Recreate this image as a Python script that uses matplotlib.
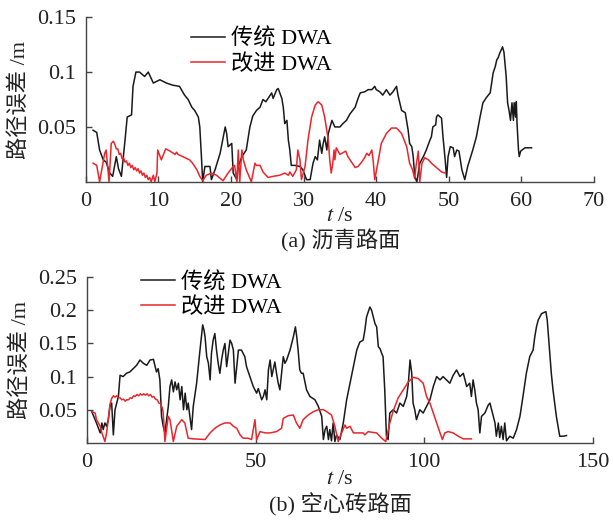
import numpy as np
import matplotlib.pyplot as plt

plt.rcParams['font.family'] = ['Liberation Serif', 'Noto Sans CJK SC']
plt.rcParams['mathtext.fontset'] = 'stix'

# (a) asphalt road
t_a_trad = [1.0, 1.5, 1.9, 2.4, 2.8, 3.3, 3.7, 4.2, 4.5, 4.9, 5.4, 5.7, 6.3, 6.5, 6.9, 7.4, 8.1, 8.6, 9.3,
            10.2, 11.1, 12.0, 12.9, 13.6, 14.1, 14.6, 15.0, 15.5, 15.7, 15.9, 16.1, 16.4, 17.1, 17.3, 17.8,
            18.5, 19.2, 19.4, 19.6, 20.1, 20.3, 20.8, 21.0, 21.5, 22.1, 22.6, 23.0, 23.5, 24.0, 24.4, 24.8,
            25.6, 25.8, 26.3, 26.5, 27.0, 27.2, 27.4, 27.7, 27.9, 28.1, 28.3, 28.8, 29.5, 29.9, 30.4, 30.9,
            31.3, 31.6, 31.9, 32.2, 32.5, 32.7, 32.9, 33.2, 33.4, 33.9, 34.3, 35.0, 35.4, 35.9, 36.4, 37.1,
            37.5, 37.8, 38.4, 38.9, 39.4, 39.8, 40.0, 40.5, 40.9, 41.4, 41.9, 42.3, 42.8, 43.0, 43.5, 44.0,
            44.4, 44.6, 44.9, 45.1, 45.3, 45.6, 46.0, 46.5, 46.9, 47.4, 47.6, 47.8, 48.2, 48.3, 48.5, 49.0,
            49.2, 49.5, 49.7, 49.9, 50.2, 50.6, 50.8, 51.1, 51.4, 51.8, 52.2, 52.6, 53.3, 53.8, 54.3, 54.7,
            55.2, 55.7, 55.9, 56.1, 56.4, 56.6, 56.8, 57.0, 57.4, 57.6, 57.9, 58.1, 58.3, 58.5, 58.7, 58.9,
            59.0, 59.2, 59.3, 59.4, 59.6, 59.7, 59.9, 60.5, 61.4]
e_a_trad = [.047, .045, .029, .020, .018, .008, .005, .023, .012, .005, .038, .059, .061, .087, .100, .100, .096, .100, .090,
            .093, .090, .088, .087, .079, .075, .068, .065, .059, .050, .026, .000, .014, .014, .002, .011,
            .026, .050, .044, .032, .035, .008, .002, .014, .023, .029, .050, .060, .065, .068, .075, .073,
            .081, .076, .084, .085, .076, .068, .053, .056, .038, .029, .015, .015, .014, .011, .002, .002,
            .017, .023, .020, .038, .026, .035, .041, .029, .044, .056, .050, .050, .053, .056, .062, .068,
            .076, .081, .082, .084, .084, .087, .084, .082, .079, .084, .079, .082, .087, .079, .065, .063,
            .047, .035, .032, .023, .005, .000, .017, .023, .029, .038, .041, .050, .052, .059, .061, .058,
            .041, .020, .004, .023, .032, .031, .023, .029, .028, .011, .002, .014, .029, .041, .059, .072,
            .077, .081, .090, .099, .105, .111, .113, .117, .123, .118, .096, .072, .065, .056, .072, .056,
            .072, .059, .073, .053, .029, .023, .028, .031, .031]

t_a_impr = [1.0, 1.5, 1.9, 2.6, 2.8, 3.2, 3.5, 3.8, 4.0, 4.2, 4.4, 4.6, 4.8, 5.0, 5.2, 5.4, 5.6, 5.8, 6.0,
            6.2, 6.4, 6.6, 6.8, 7.0, 7.2, 7.4, 7.6, 7.8, 8.0, 8.2, 8.4, 8.6, 8.8, 9.0, 9.3, 9.5, 9.8, 9.9,
            10.4, 11.0, 11.6, 12.3, 12.5, 12.7, 14.3, 14.7, 15.3, 15.7, 16.1, 16.6, 17.3, 18.0, 18.9, 19.6,
            20.3, 20.5, 20.8, 21.0, 21.2, 21.5, 21.7, 22.1, 22.8, 23.3, 23.5, 24.0, 24.4, 25.1, 25.8, 26.7,
            27.4, 27.9, 28.1, 28.5, 29.0, 29.2, 29.5, 29.7, 30.2, 30.6, 31.1, 31.6, 32.0, 32.5, 32.9, 33.4,
            33.6, 33.8, 34.0, 34.2, 34.3, 34.5, 35.0, 35.8, 36.1, 37.1, 37.5, 38.0, 38.4, 38.7, 39.0, 39.4,
            39.6, 39.8, 40.3, 40.7, 41.4, 42.1, 42.8, 43.5, 44.2, 44.6, 45.0, 45.3, 45.5, 45.8, 46.0, 46.3,
            46.7, 47.2, 47.6, 48.3, 49.0, 49.5]
e_a_impr = [.017, .015, .000, .026, .029, .000, .035, .037, .034, .030, .030, .025, .026, .021, .022, .018, .019, .015, .017,
            .013, .015, .011, .013, .010, .012, .008, .010, .006, .008, .004, .006, .002, .004, .000, .006, .000, .008, .029,
            .020, .030, .028, .025, .027, .025, .020, .017, .011, .005, .001, .006, .008, .006, .001, .008,
            .014, .015, .000, .029, .000, .029, .020, .011, .000, .017, .015, .015, .009, .004, .005, .006,
            .008, .006, .009, .005, .011, .029, .020, .002, .014, .038, .059, .070, .073, .070, .059, .038,
            .020, .008, .016, .029, .020, .031, .025, .028, .023, .013, .014, .018, .022, .026, .024, .029,
            .018, .002, .020, .035, .044, .049, .049, .044, .032, .017, .011, .003, .015, .028, .000, .017,
            .022, .020, .017, .013, .009, .008]

# (b) hollow brick road
t_b_trad = [1.4, 2.4, 3.4, 3.9, 4.4, 4.8, 5.3, 5.8, 6.3, 6.8, 7.3, 7.8, 8.3, 9.3, 9.8, 10.7, 11.7, 12.7, 13.7,
            14.7, 15.7, 16.7, 17.7, 18.7, 19.7, 20.2, 20.6, 21.1, 21.6, 22.1, 22.6, 23.1, 23.6, 24.1, 24.6,
            25.1, 25.6, 26.1, 26.6, 27.1, 27.6, 28.1, 28.6, 29.1, 29.6, 30.0, 30.5, 31.0, 31.5, 32.5, 33.0,
            33.5, 34.3, 34.7, 35.0, 35.5, 36.0, 36.5, 36.9, 37.4, 37.9, 38.4, 38.9, 39.4, 39.9, 40.4, 40.9,
            41.4, 41.9, 42.4, 42.9, 43.4, 43.9, 44.4, 44.9, 45.8, 46.8, 47.3, 48.3, 49.3, 50.3, 50.8, 51.8,
            52.3, 52.8, 53.3, 53.8, 54.3, 54.8, 55.2, 55.7, 56.2, 56.7, 57.2, 57.7, 58.2, 58.7, 59.2, 60.2,
            61.2, 61.8, 62.2, 62.6, 63.1, 63.6, 64.1, 65.1, 66.1, 67.6, 68.6, 69.6, 70.1, 70.6, 71.1, 71.6,
            72.0, 72.5, 73.0, 73.5, 74.0, 75.0, 76.0, 77.0, 78.0, 79.0, 80.0, 80.9, 81.9, 82.4, 82.9, 83.9,
            84.4, 84.9, 85.4, 85.9, 86.4, 86.9, 87.4, 87.8, 88.3, 88.8, 89.3, 89.8, 90.8, 91.8, 92.8, 93.8,
            94.8, 95.3, 95.8, 96.3, 96.7, 97.2, 97.7, 98.7, 99.7, 100.7, 101.7, 102.7, 103.7, 104.7, 105.6,
            106.6, 107.6, 108.6, 109.6, 110.6, 111.6, 112.6, 113.5, 114.0, 114.5, 115.0, 115.5, 116.0, 116.5,
            117.0, 118.0, 119.0, 119.5, 120.0, 120.5, 121.0, 121.4, 122.0, 122.4, 122.9, 123.4, 123.9, 124.4,
            125.4, 126.4, 127.4, 128.4, 129.3, 130.3, 131.3, 132.3, 132.8, 133.3, 133.8, 134.8, 136.1, 136.5,
            136.8, 137.3, 137.7, 138.2, 139.2, 139.7, 140.2, 141.2, 142.2]
e_b_trad = [.047, .035, .022, .015, .030, .020, .030, .025, .035, .055, .060, .012, .050, .070, .102, .100, .105, .107, .112,
            .117, .125, .120, .117, .125, .126, .115, .107, .112, .095, .040, .025, .015, .035, .055, .085,
            .095, .077, .092, .080, .090, .065, .085, .050, .075, .050, .060, .040, .020, .055, .090, .115,
            .140, .178, .170, .160, .130, .120, .095, .135, .155, .165, .140, .120, .105, .125, .140, .150,
            .115, .135, .155, .150, .140, .090, .115, .140, .140, .130, .115, .100, .085, .075, .082, .065,
            .070, .080, .065, .110, .125, .100, .110, .122, .105, .090, .080, .105, .130, .120, .125, .140,
            .160, .175, .160, .140, .110, .105, .105, .080, .070, .065, .055, .040, .005, .020, .025, .005,
            .020, .003, .030, .002, .012, .005, .030, .065, .090, .115, .140, .152, .155, .170, .190, .205,
            .200, .190, .180, .175, .145, .142, .135, .130, .080, .010, .005, .045, .050, .045, .060, .055,
            .070, .090, .125, .105, .060, .050, .035, .050, .045, .055, .065, .085, .100, .095, .100,
            .095, .090, .102, .110, .100, .105, .085, .090, .070, .095, .080, .060, .050, .015,
            .040, .045, .057, .060, .050, .040, .030, .010, .030, .008, .025, .005, .030, .003,
            .010, .007, .020, .040, .070, .105, .130, .140, .160, .175, .185, .195, .198, .185,
            .165, .130, .105, .080, .040, .025, .010, .010, .011]

t_b_impr = [1.4, 2.4, 2.8, 3.9, 4.4, 5.3, 5.8, 6.3, 6.8, 7.3, 7.8, 8.3, 8.8, 9.3, 9.8, 10.3, 10.8, 11.3, 11.8,
            12.3, 12.8, 13.3, 13.8, 14.3, 14.8, 15.3, 15.8, 16.3, 16.8, 17.3, 17.8, 18.3, 18.8, 19.3, 19.8,
            20.3, 20.8, 21.3, 21.8, 22.3, 22.6, 23.1, 24.1, 24.6, 25.6, 26.6, 28.1, 29.0, 30.0, 31.5, 33.5,
            35.0, 36.5, 37.9, 39.4, 40.9, 42.4, 43.4, 44.4, 45.4, 46.3, 47.8, 48.8, 49.8, 50.3, 51.3, 52.8,
            54.3, 56.2, 57.7, 58.2, 59.7, 61.2, 62.1, 63.1, 64.1, 65.6, 67.1, 68.6, 70.1, 71.1, 72.5, 73.5,
            74.5, 75.5, 76.5, 77.0, 78.0, 79.0, 80.4, 81.9, 82.4, 83.4, 84.4, 85.9, 87.4, 88.6, 89.8, 90.8,
            92.3, 93.8, 95.3, 96.7, 98.2, 99.7, 100.7, 101.7, 102.7, 103.7, 104.7, 105.4, 106.1, 107.1, 108.6,
            110.1, 111.6, 114.0]
e_b_impr = [.047, .045, .035, .025, .015, .002, .015, .035, .058, .067, .071, .069, .071, .068, .068, .065, .066, .063, .065,
            .065, .068, .067, .071, .070, .073, .071, .074, .072, .074, .072, .074, .071, .073, .069, .070,
            .066, .065, .060, .059, .053, .045, .002, .040, .035, .002, .025, .035, .030, .007, .006, .0055,
            .005, .015, .022, .027, .030, .030, .025, .022, .012, .007, .007, .005, .035, .005, .017, .015,
            .015, .017, .022, .037, .041, .042, .030, .022, .035, .042, .047, .050, .050, .047, .042, .025,
            .002, .015, .027, .022, .025, .015, .015, .015, .012, .017, .016, .015, .007, .002, .030, .048,
            .068, .080, .092, .099, .097, .090, .070, .060, .045, .030, .015, .005, .015, .017, .015,
            .010, .006, .006]

legend_labels = ['传统 DWA', '改进 DWA']
black = '#1a1a1a'
red = '#e8262c'
fs = 16

fig = plt.figure(figsize=(6.13, 5.21), dpi=100)
ax1 = fig.add_axes([0.140, 0.651, 0.829, 0.316])
ax2 = fig.add_axes([0.142, 0.150, 0.825, 0.318])


def style_axes(ax, xmax, xticks, yticks, ylabels, xlab_y):
    for s in ['top', 'right']:
        ax.spines[s].set_visible(False)
    for s in ['left', 'bottom']:
        ax.spines[s].set_color('#444444')
        ax.spines[s].set_linewidth(1.0)
    ax.set_xlim(0, xmax)
    ax.set_xticks(xticks)
    ax.set_xticklabels([str(v) for v in xticks])
    ax.set_yticks(yticks)
    ax.set_yticklabels(ylabels)
    ax.tick_params(direction='in', length=4, width=1, color='#444444',
                   labelsize=fs, labelcolor='#222222', pad=7)
    ax.set_xlabel('$t$ /s', fontsize=fs, color='#222222')
    ax.xaxis.set_label_coords(0.5, xlab_y)
    ax.set_ylabel('路径误差 /m', fontsize=fs, color='#222222')
    ax.yaxis.set_label_coords(-0.11, 0.5)


ax1.plot(t_a_trad, e_a_trad, color=black, lw=1.1, label=legend_labels[0])
ax1.plot(t_a_impr, e_a_impr, color=red, lw=1.1, label=legend_labels[1])
ax1.set_ylim(0, 0.15)
style_axes(ax1, 70, [0, 10, 20, 30, 40, 50, 60, 70], [0.05, 0.1, 0.15], ['0.05', '0.1', '0.15'], -0.15)
ax1.legend(loc='upper left', bbox_to_anchor=(0.19, 0.985), frameon=False, fontsize=fs,
           handlelength=1.5, handletextpad=0.3, labelspacing=0.2, borderaxespad=0)
fig.text(0.555, 0.537, '(a) 沥青路面', ha='center', va='center', fontsize=fs, color='#222222')

ax2.plot(t_b_trad, e_b_trad, color=black, lw=1.1, label=legend_labels[0])
ax2.plot(t_b_impr, e_b_impr, color=red, lw=1.1, label=legend_labels[1])
ax2.set_ylim(0, 0.25)
style_axes(ax2, 150, [0, 50, 100, 150], [0.05, 0.1, 0.15, 0.2, 0.25],
           ['0.05', '0.1', '0.15', '0.2', '0.25'], -0.165)
ax2.legend(loc='upper left', bbox_to_anchor=(0.09, 1.085), frameon=False, fontsize=fs,
           handlelength=1.5, handletextpad=0.3, labelspacing=0.2, borderaxespad=0)
fig.text(0.555, 0.031, '(b) 空心砖路面', ha='center', va='center', fontsize=fs, color='#222222')

plt.savefig('out.png', dpi=100)
